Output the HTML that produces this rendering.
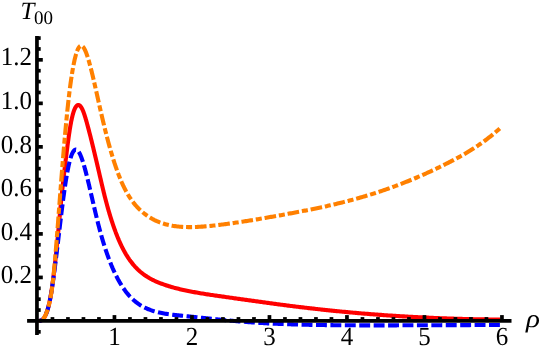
<!DOCTYPE html>
<html><head><meta charset="utf-8"><title>T00 plot</title>
<style>html,body{margin:0;padding:0;background:#fff;overflow:hidden}svg{display:block;will-change:transform;text-rendering:geometricPrecision}</style>
</head><body>
<svg width="540" height="351" viewBox="0 0 540 351">
<rect width="540" height="351" fill="#fff"/>
<path d="M39.09,320.89 L39.28,320.87 L39.48,320.85 L39.68,320.82 L39.88,320.78 L40.08,320.74 L40.28,320.70 L40.48,320.64 L40.67,320.58 L40.87,320.51 L41.07,320.44 L41.27,320.35 L41.47,320.25 L41.67,320.15 L41.87,320.03 L42.06,319.90 L42.26,319.76 L42.46,319.61 L42.66,319.44 L42.86,319.27 L43.06,319.07 L43.26,318.86 L43.46,318.64 L43.65,318.40 L43.85,318.14 L44.05,317.86 L44.25,317.57 L44.45,317.25 L44.65,316.92 L44.85,316.57 L45.04,316.19 L45.24,315.79 L45.44,315.38 L45.64,314.93 L45.84,314.47 L46.04,313.98 L46.24,313.46 L46.44,312.99 L46.63,312.49 L46.83,311.97 L47.03,311.43 L47.23,310.86 L47.43,310.26 L47.63,309.63 L47.83,308.97 L48.02,308.29 L48.22,307.57 L48.42,306.83 L48.62,306.05 L48.82,305.24 L49.02,304.40 L49.22,303.53 L49.42,302.62 L49.61,301.68 L49.81,300.71 L50.01,299.70 L50.21,298.66 L50.41,297.58 L50.61,296.47 L50.81,295.32 L51.00,294.14 L51.20,292.92 L51.40,291.67 L51.60,290.38 L51.80,289.06 L52.00,287.71 L52.20,286.32 L52.39,284.90 L52.59,283.45 L52.79,281.97 L52.99,280.46 L53.19,278.92 L53.39,277.35 L53.59,275.76 L53.79,274.14 L53.98,272.49 L54.18,270.81 L54.38,269.11 L54.58,267.38 L54.78,265.63 L54.98,263.86 L55.18,262.06 L55.37,260.24 L55.57,258.39 L55.77,256.53 L55.97,254.64 L56.17,252.73 L56.37,250.80 L56.57,248.85 L56.77,246.88 L56.96,244.89 L57.16,242.89 L57.36,240.86 L57.56,238.82 L57.76,236.75 L57.96,234.67 L58.16,232.58 L58.35,230.46 L58.55,228.34 L58.75,226.20 L58.95,224.06 L59.15,221.91 L59.35,219.76 L59.55,217.61 L59.74,215.47 L59.94,213.34 L60.14,211.22 L60.34,209.12 L60.54,207.03 L60.74,204.96 L60.94,202.91 L61.14,200.89 L61.33,198.89 L61.53,196.92 L61.73,194.98 L61.93,193.06 L62.13,191.17 L62.33,189.30 L62.53,187.46 L62.72,185.63 L62.92,183.83 L63.12,182.04 L63.32,180.27 L63.52,178.52 L63.72,176.78 L63.92,175.06 L64.12,173.36 L64.31,171.66 L64.51,169.98 L64.71,168.31 L64.91,166.65 L65.11,165.00 L65.31,163.36 L65.51,161.73 L65.70,160.10 L65.90,158.48 L66.10,156.87 L66.30,155.26 L66.50,153.66 L66.70,152.07 L66.90,150.49 L67.09,148.93 L67.29,147.37 L67.49,145.83 L67.69,144.31 L67.89,142.80 L68.09,141.32 L68.29,139.85 L68.49,138.41 L68.68,136.99 L68.88,135.60 L69.08,134.23 L69.28,132.89 L69.48,131.58 L69.68,130.30 L69.88,129.04 L70.07,127.82 L70.27,126.64 L70.47,125.48 L70.67,124.36 L70.87,123.28 L71.07,122.23 L71.27,121.22 L71.47,120.24 L71.66,119.30 L71.86,118.39 L72.06,117.52 L72.26,116.68 L72.46,115.87 L72.66,115.10 L72.86,114.36 L73.05,113.65 L73.25,112.97 L73.45,112.32 L73.65,111.70 L73.85,111.12 L74.05,110.56 L74.25,110.03 L74.45,109.53 L74.64,109.06 L74.84,108.62 L75.04,108.20 L75.24,107.82 L75.44,107.45 L75.64,107.12 L75.84,106.81 L76.03,106.53 L76.23,106.27 L76.43,106.04 L76.63,105.83 L76.83,105.65 L77.03,105.49 L77.23,105.35 L77.42,105.24 L77.62,105.15 L77.82,105.08 L78.02,105.04 L78.22,105.02 L78.42,105.02 L78.62,105.04 L78.82,105.09 L79.01,105.15 L79.21,105.24 L79.41,105.35 L79.61,105.48 L79.81,105.63 L80.01,105.80 L80.21,105.99 L80.40,106.20 L80.60,106.43 L80.80,106.69 L81.00,106.96 L81.20,107.25 L81.40,107.57 L81.60,107.90 L81.80,108.25 L81.99,108.63 L82.19,109.02 L82.39,109.43 L82.59,109.86 L82.79,110.31 L82.99,110.78 L83.19,111.27 L83.38,111.78 L83.58,112.30 L83.78,112.84 L83.98,113.40 L84.18,113.98 L84.38,114.57 L84.58,115.17 L84.77,115.79 L84.97,116.41 L85.17,117.06 L85.37,117.71 L85.57,118.37 L85.77,119.04 L85.97,119.72 L86.17,120.41 L86.36,121.11 L86.56,121.81 L86.76,122.52 L86.96,123.24 L87.16,123.96 L87.36,124.68 L87.56,125.41 L87.75,126.15 L87.95,126.88 L88.15,127.63 L88.35,128.37 L88.55,129.12 L88.75,129.88 L88.95,130.64 L89.15,131.40 L89.34,132.17 L89.54,132.93 L89.74,133.71 L89.94,134.48 L90.14,135.26 L90.34,136.05 L90.54,136.83 L90.73,137.62 L90.93,138.41 L91.13,139.21 L91.33,140.00 L91.53,140.80 L91.73,141.60 L91.93,142.41 L92.13,143.22 L92.32,144.03 L92.52,144.84 L92.72,145.65 L92.92,146.47 L93.12,147.29 L93.32,148.11 L93.52,148.93 L93.71,149.76 L93.91,150.58 L94.11,151.41 L94.31,152.24 L94.51,153.07 L94.71,153.90 L94.91,154.74 L95.10,155.57 L95.30,156.41 L95.50,157.25 L95.70,158.09 L95.90,158.93 L96.10,159.77 L96.30,160.61 L96.50,161.46 L96.69,162.30 L96.89,163.15 L97.09,164.00 L97.29,164.84 L97.49,165.69 L97.69,166.54 L97.89,167.39 L98.08,168.24 L98.28,169.10 L98.48,169.95 L98.68,170.80 L98.88,171.65 L99.08,172.51 L99.28,173.36 L99.48,174.21 L99.67,175.07 L99.87,175.92 L100.07,176.78 L100.27,177.63 L100.47,178.49 L100.67,179.34 L100.87,180.19 L101.06,181.05 L101.26,181.90 L101.46,182.75 L101.66,183.60 L101.86,184.45 L102.06,185.29 L102.26,186.13 L102.45,186.97 L102.65,187.81 L102.85,188.64 L103.05,189.47 L103.25,190.29 L103.45,191.11 L103.65,191.93 L103.85,192.74 L104.04,193.55 L104.24,194.35 L104.44,195.14 L104.64,195.93 L104.84,196.72 L105.04,197.50 L105.24,198.27 L105.43,199.04 L105.63,199.80 L105.83,200.56 L106.03,201.32 L106.23,202.07 L106.43,202.81 L106.63,203.55 L106.83,204.28 L107.02,205.01 L107.22,205.73 L107.42,206.45 L107.62,207.17 L107.82,207.88 L108.02,208.58 L108.22,209.28 L108.41,209.97 L108.61,210.66 L108.81,211.35 L109.01,212.03 L109.21,212.70 L109.41,213.37 L109.61,214.04 L109.81,214.70 L110.00,215.36 L110.20,216.01 L110.40,216.66 L110.60,217.30 L110.80,217.94 L111.00,218.57 L111.20,219.20 L111.39,219.82 L111.59,220.44 L111.79,221.06 L111.99,221.67 L112.19,222.27 L112.39,222.87 L112.59,223.47 L112.78,224.06 L112.98,224.65 L113.18,225.23 L113.38,225.81 L113.58,226.39 L113.78,226.96 L113.98,227.52 L114.18,228.09 L114.37,228.64 L114.57,229.20 L114.77,229.75 L114.97,230.29 L115.17,230.83 L115.37,231.37 L115.57,231.90 L115.76,232.43 L115.96,232.95 L116.16,233.47 L116.36,233.98 L116.56,234.50 L116.76,235.00 L116.96,235.50 L117.16,236.00 L117.35,236.50 L117.55,236.99 L117.75,237.47 L117.95,237.96 L118.15,238.44 L118.35,238.91 L118.55,239.38 L118.74,239.85 L118.94,240.31 L119.14,240.77 L119.34,241.22 L119.54,241.67 L119.74,242.12 L119.94,242.56 L120.13,243.00 L120.33,243.44 L120.53,243.87 L120.73,244.30 L120.93,244.72 L121.13,245.14 L121.33,245.56 L121.53,245.97 L121.72,246.38 L121.92,246.78 L122.12,247.18 L122.32,247.58 L122.52,247.98 L122.72,248.37 L122.92,248.75 L123.11,249.13 L123.31,249.51 L123.51,249.89 L123.71,250.26 L123.91,250.63 L124.11,251.00 L124.31,251.36 L124.51,251.72 L124.70,252.07 L124.90,252.42 L125.10,252.77 L125.30,253.12 L125.50,253.46 L125.70,253.80 L125.90,254.13 L126.09,254.47 L126.29,254.79 L126.49,255.12 L126.69,255.44 L126.89,255.76 L127.09,256.08 L127.29,256.40 L127.48,256.71 L127.68,257.02 L127.88,257.32 L128.08,257.62 L128.28,257.92 L128.48,258.22 L128.68,258.51 L128.88,258.81 L129.07,259.10 L129.27,259.38 L129.47,259.66 L129.67,259.95 L129.87,260.22 L130.07,260.50 L130.27,260.77 L130.46,261.04 L130.66,261.31 L130.86,261.58 L131.06,261.84 L131.26,262.10 L131.46,262.36 L131.66,262.61 L131.86,262.87 L132.05,263.12 L132.25,263.37 L132.45,263.61 L132.65,263.86 L132.85,264.10 L133.05,264.34 L133.25,264.57 L133.44,264.81 L133.64,265.04 L133.84,265.27 L134.04,265.50 L134.24,265.73 L134.44,265.95 L134.64,266.17 L134.84,266.39 L135.03,266.61 L135.23,266.83 L135.43,267.04 L135.63,267.25 L135.83,267.46 L136.03,267.67 L136.23,267.88 L136.42,268.08 L136.62,268.29 L136.82,268.49 L137.02,268.68 L137.22,268.88 L137.42,269.08 L137.62,269.27 L137.81,269.46 L138.01,269.65 L138.21,269.84 L138.41,270.03 L138.61,270.21 L138.81,270.39 L139.01,270.57 L139.21,270.75 L139.40,270.93 L139.60,271.11 L139.80,271.28 L140.00,271.46 L141.21,272.47 L142.41,273.44 L143.62,274.35 L144.82,275.21 L146.03,276.03 L147.23,276.81 L148.44,277.55 L149.64,278.25 L150.85,278.92 L152.05,279.56 L153.26,280.16 L154.46,280.74 L155.67,281.30 L156.87,281.83 L158.08,282.34 L159.29,282.83 L160.49,283.30 L161.70,283.75 L162.90,284.19 L164.11,284.62 L165.31,285.03 L166.52,285.44 L167.72,285.82 L168.93,286.20 L170.13,286.57 L171.34,286.92 L172.54,287.26 L173.75,287.60 L174.96,287.92 L176.16,288.24 L177.37,288.55 L178.57,288.85 L179.78,289.14 L180.98,289.42 L182.19,289.70 L183.39,289.97 L184.60,290.23 L185.80,290.49 L187.01,290.74 L188.21,290.99 L189.42,291.23 L190.62,291.47 L191.83,291.70 L193.04,291.92 L194.24,292.14 L195.45,292.36 L196.65,292.58 L197.86,292.79 L199.06,292.99 L200.27,293.20 L201.47,293.40 L202.68,293.59 L203.88,293.79 L205.09,293.98 L206.29,294.17 L207.50,294.36 L208.71,294.54 L209.91,294.73 L211.12,294.91 L212.32,295.09 L213.53,295.27 L214.73,295.44 L215.94,295.62 L217.14,295.79 L218.35,295.97 L219.55,296.14 L220.76,296.31 L221.96,296.48 L223.17,296.65 L224.37,296.83 L225.58,297.00 L226.79,297.16 L227.99,297.33 L229.20,297.50 L230.40,297.67 L231.61,297.84 L232.81,298.01 L234.02,298.18 L235.22,298.35 L236.43,298.52 L237.63,298.69 L238.84,298.86 L240.04,299.03 L241.25,299.20 L242.45,299.37 L243.66,299.54 L244.87,299.71 L246.07,299.88 L247.28,300.05 L248.48,300.22 L249.69,300.39 L250.89,300.56 L252.10,300.73 L253.30,300.90 L254.51,301.07 L255.71,301.23 L256.92,301.40 L258.12,301.57 L259.33,301.74 L260.54,301.90 L261.74,302.07 L262.95,302.24 L264.15,302.40 L265.36,302.57 L266.56,302.73 L267.77,302.90 L268.97,303.06 L270.18,303.22 L271.38,303.39 L272.59,303.55 L273.79,303.71 L275.00,303.87 L276.20,304.03 L277.41,304.19 L278.62,304.35 L279.82,304.51 L281.03,304.67 L282.23,304.83 L283.44,304.98 L284.64,305.14 L285.85,305.29 L287.05,305.45 L288.26,305.60 L289.46,305.75 L290.67,305.91 L291.87,306.06 L293.08,306.21 L294.28,306.36 L295.49,306.51 L296.70,306.66 L297.90,306.80 L299.11,306.95 L300.31,307.10 L301.52,307.24 L302.72,307.39 L303.93,307.53 L305.13,307.67 L306.34,307.82 L307.54,307.96 L308.75,308.10 L309.95,308.24 L311.16,308.38 L312.37,308.51 L313.57,308.65 L314.78,308.79 L315.98,308.92 L317.19,309.06 L318.39,309.19 L319.60,309.32 L320.80,309.46 L322.01,309.59 L323.21,309.72 L324.42,309.85 L325.62,309.98 L326.83,310.10 L328.03,310.23 L329.24,310.36 L330.45,310.48 L331.65,310.61 L332.86,310.73 L334.06,310.85 L335.27,310.97 L336.47,311.09 L337.68,311.21 L338.88,311.33 L340.09,311.45 L341.29,311.57 L342.50,311.68 L343.70,311.80 L344.91,311.91 L346.12,312.02 L347.32,312.14 L348.53,312.25 L349.73,312.36 L350.94,312.47 L352.14,312.58 L353.35,312.69 L354.55,312.79 L355.76,312.90 L356.96,313.00 L358.17,313.11 L359.37,313.21 L360.58,313.32 L361.78,313.42 L362.99,313.52 L364.20,313.62 L365.40,313.72 L366.61,313.81 L367.81,313.91 L369.02,314.01 L370.22,314.10 L371.43,314.20 L372.63,314.29 L373.84,314.39 L375.04,314.48 L376.25,314.57 L377.45,314.66 L378.66,314.75 L379.86,314.84 L381.07,314.92 L382.28,315.01 L383.48,315.10 L384.69,315.18 L385.89,315.27 L387.10,315.35 L388.30,315.43 L389.51,315.51 L390.71,315.59 L391.92,315.67 L393.12,315.75 L394.33,315.83 L395.53,315.91 L396.74,315.98 L397.95,316.06 L399.15,316.13 L400.36,316.21 L401.56,316.28 L402.77,316.35 L403.97,316.42 L405.18,316.49 L406.38,316.56 L407.59,316.63 L408.79,316.70 L410.00,316.77 L411.20,316.83 L412.41,316.90 L413.61,316.96 L414.82,317.03 L416.03,317.09 L417.23,317.15 L418.44,317.21 L419.64,317.27 L420.85,317.33 L422.05,317.39 L423.26,317.45 L424.46,317.51 L425.67,317.56 L426.87,317.62 L428.08,317.67 L429.28,317.73 L430.49,317.78 L431.69,317.83 L432.90,317.89 L434.11,317.94 L435.31,317.99 L436.52,318.04 L437.72,318.09 L438.93,318.13 L440.13,318.18 L441.34,318.23 L442.54,318.27 L443.75,318.32 L444.95,318.36 L446.16,318.40 L447.36,318.45 L448.57,318.49 L449.78,318.53 L450.98,318.57 L452.19,318.61 L453.39,318.65 L454.60,318.68 L455.80,318.72 L457.01,318.76 L458.21,318.79 L459.42,318.83 L460.62,318.86 L461.83,318.89 L463.03,318.93 L464.24,318.96 L465.44,318.99 L466.65,319.02 L467.86,319.05 L469.06,319.08 L470.27,319.11 L471.47,319.14 L472.68,319.16 L473.88,319.19 L475.09,319.21 L476.29,319.24 L477.50,319.26 L478.70,319.29 L479.91,319.31 L481.11,319.33 L482.32,319.35 L483.53,319.37 L484.73,319.39 L485.94,319.41 L487.14,319.43 L488.35,319.45 L489.55,319.46 L490.76,319.48 L491.96,319.50 L493.17,319.51 L494.37,319.53 L495.58,319.54 L496.78,319.55 L497.99,319.57 L499.19,319.58 L500.40,319.59" fill="none" stroke="#ff0000" stroke-width="4.1" stroke-linejoin="round"/>
<path d="M39.09,320.89 L39.28,320.87 L39.48,320.85 L39.68,320.82 L39.88,320.79 L40.08,320.75 L40.28,320.70 L40.48,320.65 L40.67,320.59 L40.87,320.52 L41.07,320.45 L41.27,320.36 L41.47,320.27 L41.67,320.16 L41.87,320.05 L42.06,319.92 L42.26,319.78 L42.46,319.63 L42.66,319.47 L42.86,319.30 L43.06,319.10 L43.26,318.90 L43.46,318.68 L43.65,318.44 L43.85,318.19 L44.05,317.92 L44.25,317.63 L44.45,317.32 L44.65,316.99 L44.85,316.64 L45.04,316.28 L45.24,315.89 L45.44,315.48 L45.64,315.04 L45.84,314.58 L46.04,314.10 L46.24,313.60 L46.44,313.10 L46.63,312.58 L46.83,312.04 L47.03,311.48 L47.23,310.88 L47.43,310.26 L47.63,309.62 L47.83,308.95 L48.02,308.25 L48.22,307.52 L48.42,306.76 L48.62,305.97 L48.82,305.16 L49.02,304.32 L49.22,303.44 L49.42,302.54 L49.61,301.61 L49.81,300.65 L50.01,299.66 L50.21,298.64 L50.41,297.60 L50.61,296.52 L50.81,295.41 L51.00,294.27 L51.20,293.11 L51.40,291.91 L51.60,290.68 L51.80,289.43 L52.00,288.15 L52.20,286.85 L52.39,285.52 L52.59,284.17 L52.79,282.80 L52.99,281.41 L53.19,280.00 L53.39,278.57 L53.59,277.12 L53.79,275.66 L53.98,274.18 L54.18,272.68 L54.38,271.17 L54.58,269.64 L54.78,268.10 L54.98,266.55 L55.18,264.99 L55.37,263.42 L55.57,261.84 L55.77,260.24 L55.97,258.64 L56.17,257.03 L56.37,255.41 L56.57,253.79 L56.77,252.16 L56.96,250.52 L57.16,248.87 L57.36,247.22 L57.56,245.57 L57.76,243.91 L57.96,242.25 L58.16,240.58 L58.35,238.92 L58.55,237.24 L58.75,235.57 L58.95,233.90 L59.15,232.22 L59.35,230.54 L59.55,228.86 L59.74,227.19 L59.94,225.52 L60.14,223.85 L60.34,222.18 L60.54,220.52 L60.74,218.87 L60.94,217.23 L61.14,215.59 L61.33,213.96 L61.53,212.34 L61.73,210.74 L61.93,209.14 L62.13,207.55 L62.33,205.98 L62.53,204.42 L62.72,202.88 L62.92,201.35 L63.12,199.83 L63.32,198.33 L63.52,196.85 L63.72,195.38 L63.92,193.93 L64.12,192.50 L64.31,191.09 L64.51,189.69 L64.71,188.32 L64.91,186.96 L65.11,185.63 L65.31,184.31 L65.51,183.02 L65.70,181.74 L65.90,180.49 L66.10,179.26 L66.30,178.06 L66.50,176.87 L66.70,175.71 L66.90,174.57 L67.09,173.46 L67.29,172.37 L67.49,171.30 L67.69,170.26 L67.89,169.25 L68.09,168.25 L68.29,167.29 L68.49,166.35 L68.68,165.43 L68.88,164.54 L69.08,163.68 L69.28,162.84 L69.48,162.03 L69.68,161.24 L69.88,160.49 L70.07,159.75 L70.27,159.05 L70.47,158.37 L70.67,157.72 L70.87,157.10 L71.07,156.50 L71.27,155.93 L71.47,155.38 L71.66,154.86 L71.86,154.36 L72.06,153.89 L72.26,153.45 L72.46,153.03 L72.66,152.64 L72.86,152.27 L73.05,151.92 L73.25,151.60 L73.45,151.30 L73.65,151.03 L73.85,150.78 L74.05,150.56 L74.25,150.36 L74.45,150.18 L74.64,150.03 L74.84,149.90 L75.04,149.79 L75.24,149.71 L75.44,149.65 L75.64,149.61 L75.84,149.60 L76.03,149.60 L76.23,149.63 L76.43,149.68 L76.63,149.76 L76.83,149.85 L77.03,149.97 L77.23,150.11 L77.42,150.27 L77.62,150.45 L77.82,150.65 L78.02,150.88 L78.22,151.12 L78.42,151.39 L78.62,151.67 L78.82,151.98 L79.01,152.30 L79.21,152.64 L79.41,153.00 L79.61,153.38 L79.81,153.78 L80.01,154.19 L80.21,154.62 L80.40,155.06 L80.60,155.52 L80.80,156.00 L81.00,156.49 L81.20,157.00 L81.40,157.52 L81.60,158.05 L81.80,158.60 L81.99,159.16 L82.19,159.73 L82.39,160.32 L82.59,160.92 L82.79,161.52 L82.99,162.15 L83.19,162.78 L83.38,163.42 L83.58,164.08 L83.78,164.74 L83.98,165.41 L84.18,166.10 L84.38,166.79 L84.58,167.49 L84.77,168.20 L84.97,168.92 L85.17,169.65 L85.37,170.39 L85.57,171.13 L85.77,171.88 L85.97,172.64 L86.17,173.40 L86.36,174.18 L86.56,174.95 L86.76,175.74 L86.96,176.53 L87.16,177.33 L87.36,178.13 L87.56,178.94 L87.75,179.75 L87.95,180.57 L88.15,181.39 L88.35,182.22 L88.55,183.05 L88.75,183.88 L88.95,184.72 L89.15,185.56 L89.34,186.40 L89.54,187.25 L89.74,188.10 L89.94,188.95 L90.14,189.80 L90.34,190.66 L90.54,191.51 L90.73,192.37 L90.93,193.23 L91.13,194.09 L91.33,194.95 L91.53,195.81 L91.73,196.68 L91.93,197.54 L92.13,198.40 L92.32,199.26 L92.52,200.12 L92.72,200.99 L92.92,201.85 L93.12,202.71 L93.32,203.56 L93.52,204.42 L93.71,205.28 L93.91,206.13 L94.11,206.98 L94.31,207.83 L94.51,208.68 L94.71,209.53 L94.91,210.37 L95.10,211.21 L95.30,212.05 L95.50,212.89 L95.70,213.72 L95.90,214.55 L96.10,215.38 L96.30,216.20 L96.50,217.02 L96.69,217.84 L96.89,218.65 L97.09,219.46 L97.29,220.26 L97.49,221.06 L97.69,221.86 L97.89,222.65 L98.08,223.44 L98.28,224.22 L98.48,225.00 L98.68,225.77 L98.88,226.54 L99.08,227.31 L99.28,228.07 L99.48,228.82 L99.67,229.57 L99.87,230.31 L100.07,231.05 L100.27,231.78 L100.47,232.51 L100.67,233.23 L100.87,233.95 L101.06,234.66 L101.26,235.36 L101.46,236.07 L101.66,236.76 L101.86,237.45 L102.06,238.14 L102.26,238.82 L102.45,239.49 L102.65,240.16 L102.85,240.83 L103.05,241.49 L103.25,242.15 L103.45,242.80 L103.65,243.45 L103.85,244.09 L104.04,244.72 L104.24,245.36 L104.44,245.98 L104.64,246.61 L104.84,247.23 L105.04,247.84 L105.24,248.45 L105.43,249.05 L105.63,249.65 L105.83,250.25 L106.03,250.84 L106.23,251.43 L106.43,252.01 L106.63,252.59 L106.83,253.16 L107.02,253.73 L107.22,254.30 L107.42,254.86 L107.62,255.42 L107.82,255.97 L108.02,256.52 L108.22,257.06 L108.41,257.60 L108.61,258.14 L108.81,258.67 L109.01,259.20 L109.21,259.72 L109.41,260.24 L109.61,260.76 L109.81,261.27 L110.00,261.78 L110.20,262.29 L110.40,262.79 L110.60,263.28 L110.80,263.78 L111.00,264.27 L111.20,264.75 L111.39,265.24 L111.59,265.71 L111.79,266.19 L111.99,266.66 L112.19,267.13 L112.39,267.59 L112.59,268.05 L112.78,268.51 L112.98,268.96 L113.18,269.41 L113.38,269.85 L113.58,270.30 L113.78,270.74 L113.98,271.17 L114.18,271.60 L114.37,272.03 L114.57,272.46 L114.77,272.88 L114.97,273.30 L115.17,273.71 L115.37,274.12 L115.57,274.53 L115.76,274.94 L115.96,275.34 L116.16,275.74 L116.36,276.13 L116.56,276.53 L116.76,276.92 L116.96,277.30 L117.16,277.68 L117.35,278.06 L117.55,278.44 L117.75,278.81 L117.95,279.19 L118.15,279.55 L118.35,279.92 L118.55,280.28 L118.74,280.64 L118.94,280.99 L119.14,281.34 L119.34,281.69 L119.54,282.04 L119.74,282.38 L119.94,282.73 L120.13,283.06 L120.33,283.40 L120.53,283.73 L120.73,284.06 L120.93,284.39 L121.13,284.71 L121.33,285.03 L121.53,285.35 L121.72,285.66 L121.92,285.98 L122.12,286.29 L122.32,286.59 L122.52,286.90 L122.72,287.20 L122.92,287.50 L123.11,287.80 L123.31,288.09 L123.51,288.38 L123.71,288.67 L123.91,288.96 L124.11,289.24 L124.31,289.52 L124.51,289.80 L124.70,290.08 L124.90,290.35 L125.10,290.62 L125.30,290.89 L125.50,291.15 L125.70,291.42 L125.90,291.68 L126.09,291.94 L126.29,292.19 L126.49,292.45 L126.69,292.70 L126.89,292.95 L127.09,293.19 L127.29,293.44 L127.48,293.68 L127.68,293.92 L127.88,294.16 L128.08,294.39 L128.28,294.62 L128.48,294.86 L128.68,295.08 L128.88,295.31 L129.07,295.53 L129.27,295.75 L129.47,295.97 L129.67,296.19 L129.87,296.40 L130.07,296.62 L130.27,296.83 L130.46,297.04 L130.66,297.24 L130.86,297.45 L131.06,297.65 L131.26,297.85 L131.46,298.05 L131.66,298.24 L131.86,298.44 L132.05,298.63 L132.25,298.82 L132.45,299.01 L132.65,299.20 L132.85,299.38 L133.05,299.56 L133.25,299.75 L133.44,299.92 L133.64,300.10 L133.84,300.28 L134.04,300.45 L134.24,300.62 L134.44,300.79 L134.64,300.96 L134.84,301.13 L135.03,301.29 L135.23,301.46 L135.43,301.62 L135.63,301.78 L135.83,301.94 L136.03,302.10 L136.23,302.25 L136.42,302.40 L136.62,302.56 L136.82,302.71 L137.02,302.86 L137.22,303.00 L137.42,303.15 L137.62,303.29 L137.81,303.44 L138.01,303.58 L138.21,303.72 L138.41,303.86 L138.61,303.99 L138.81,304.13 L139.01,304.26 L139.21,304.40 L139.40,304.53 L139.60,304.66 L139.80,304.79 L140.00,304.91 L141.20,305.66 L142.41,306.36 L143.61,307.01 L144.81,307.62 L146.02,308.20 L147.22,308.74 L148.43,309.24 L149.63,309.71 L150.83,310.16 L152.04,310.57 L153.24,310.96 L154.44,311.32 L155.65,311.66 L156.85,311.97 L158.06,312.27 L159.26,312.55 L160.46,312.81 L161.67,313.05 L162.87,313.28 L164.07,313.50 L165.28,313.70 L166.48,313.89 L167.68,314.07 L168.89,314.24 L170.09,314.41 L171.30,314.56 L172.50,314.71 L173.70,314.85 L174.91,314.99 L176.11,315.12 L177.31,315.25 L178.52,315.38 L179.72,315.50 L180.93,315.62 L182.13,315.74 L183.33,315.86 L184.54,315.98 L185.74,316.11 L186.94,316.23 L188.15,316.35 L189.35,316.47 L190.55,316.60 L191.76,316.72 L192.96,316.85 L194.17,316.97 L195.37,317.10 L196.57,317.22 L197.78,317.35 L198.98,317.48 L200.18,317.60 L201.39,317.73 L202.59,317.86 L203.79,317.98 L205.00,318.11 L206.20,318.24 L207.41,318.36 L208.61,318.49 L209.81,318.61 L211.02,318.73 L212.22,318.86 L213.42,318.98 L214.63,319.10 L215.83,319.22 L217.04,319.35 L218.24,319.47 L219.44,319.58 L220.65,319.70 L221.85,319.82 L223.05,319.94 L224.26,320.05 L225.46,320.17 L226.66,320.28 L227.87,320.39 L229.07,320.50 L230.28,320.61 L231.48,320.72 L232.68,320.83 L233.89,320.93 L235.09,321.04 L236.29,321.14 L237.50,321.25 L238.70,321.35 L239.91,321.45 L241.11,321.55 L242.31,321.64 L243.52,321.74 L244.72,321.83 L245.92,321.93 L247.13,322.02 L248.33,322.11 L249.53,322.20 L250.74,322.28 L251.94,322.37 L253.15,322.45 L254.35,322.54 L255.55,322.62 L256.76,322.70 L257.96,322.78 L259.16,322.85 L260.37,322.93 L261.57,323.00 L262.78,323.07 L263.98,323.14 L265.18,323.21 L266.39,323.28 L267.59,323.35 L268.79,323.41 L270.00,323.47 L271.20,323.53 L272.40,323.59 L273.61,323.65 L274.81,323.71 L276.02,323.76 L277.22,323.82 L278.42,323.87 L279.63,323.92 L280.83,323.97 L282.03,324.02 L283.24,324.07 L284.44,324.11 L285.65,324.16 L286.85,324.20 L288.05,324.24 L289.26,324.28 L290.46,324.32 L291.66,324.36 L292.87,324.40 L294.07,324.44 L295.27,324.47 L296.48,324.51 L297.68,324.54 L298.89,324.57 L300.09,324.61 L301.29,324.64 L302.50,324.67 L303.70,324.69 L304.90,324.72 L306.11,324.75 L307.31,324.78 L308.52,324.80 L309.72,324.83 L310.92,324.85 L312.13,324.87 L313.33,324.90 L314.53,324.92 L315.74,324.94 L316.94,324.96 L318.14,324.98 L319.35,325.00 L320.55,325.02 L321.76,325.03 L322.96,325.05 L324.16,325.07 L325.37,325.08 L326.57,325.10 L327.77,325.11 L328.98,325.13 L330.18,325.14 L331.38,325.15 L332.59,325.17 L333.79,325.18 L335.00,325.19 L336.20,325.20 L337.40,325.21 L338.61,325.22 L339.81,325.23 L341.01,325.24 L342.22,325.25 L343.42,325.26 L344.63,325.27 L345.83,325.27 L347.03,325.28 L348.24,325.29 L349.44,325.29 L350.64,325.30 L351.85,325.30 L353.05,325.31 L354.25,325.32 L355.46,325.32 L356.66,325.32 L357.87,325.33 L359.07,325.33 L360.27,325.33 L361.48,325.34 L362.68,325.34 L363.88,325.34 L365.09,325.34 L366.29,325.35 L367.50,325.35 L368.70,325.35 L369.90,325.35 L371.11,325.35 L372.31,325.35 L373.51,325.35 L374.72,325.35 L375.92,325.35 L377.12,325.35 L378.33,325.35 L379.53,325.35 L380.74,325.35 L381.94,325.35 L383.14,325.35 L384.35,325.35 L385.55,325.35 L386.75,325.34 L387.96,325.34 L389.16,325.34 L390.37,325.34 L391.57,325.34 L392.77,325.33 L393.98,325.33 L395.18,325.33 L396.38,325.33 L397.59,325.32 L398.79,325.32 L399.99,325.32 L401.20,325.31 L402.40,325.31 L403.61,325.31 L404.81,325.30 L406.01,325.30 L407.22,325.30 L408.42,325.29 L409.62,325.29 L410.83,325.29 L412.03,325.28 L413.24,325.28 L414.44,325.27 L415.64,325.27 L416.85,325.27 L418.05,325.26 L419.25,325.26 L420.46,325.25 L421.66,325.25 L422.86,325.24 L424.07,325.24 L425.27,325.24 L426.48,325.23 L427.68,325.23 L428.88,325.22 L430.09,325.22 L431.29,325.21 L432.49,325.21 L433.70,325.20 L434.90,325.20 L436.11,325.20 L437.31,325.19 L438.51,325.19 L439.72,325.18 L440.92,325.18 L442.12,325.17 L443.33,325.17 L444.53,325.16 L445.73,325.16 L446.94,325.16 L448.14,325.15 L449.35,325.15 L450.55,325.14 L451.75,325.14 L452.96,325.13 L454.16,325.13 L455.36,325.13 L456.57,325.12 L457.77,325.12 L458.97,325.11 L460.18,325.11 L461.38,325.10 L462.59,325.10 L463.79,325.10 L464.99,325.09 L466.20,325.09 L467.40,325.08 L468.60,325.08 L469.81,325.08 L471.01,325.07 L472.22,325.07 L473.42,325.07 L474.62,325.06 L475.83,325.06 L477.03,325.06 L478.23,325.05 L479.44,325.05 L480.64,325.05 L481.84,325.04 L483.05,325.04 L484.25,325.04 L485.46,325.03 L486.66,325.03 L487.86,325.03 L489.07,325.03 L490.27,325.02 L491.47,325.02 L492.68,325.02 L493.88,325.02 L495.09,325.01 L496.29,325.01 L497.49,325.01 L498.70,325.01 L499.90,325.01" fill="none" stroke="#0000ff" stroke-width="4.1" stroke-dasharray="10.915 3.505" stroke-dashoffset="4.76" stroke-linejoin="round"/>
<path d="M39.09,320.89 L39.28,320.87 L39.48,320.84 L39.68,320.81 L39.88,320.78 L40.08,320.74 L40.28,320.69 L40.48,320.64 L40.67,320.57 L40.87,320.50 L41.07,320.42 L41.27,320.34 L41.47,320.24 L41.67,320.13 L41.87,320.01 L42.06,319.88 L42.26,319.73 L42.46,319.58 L42.66,319.41 L42.86,319.22 L43.06,319.02 L43.26,318.81 L43.46,318.58 L43.65,318.33 L43.85,318.06 L44.05,317.78 L44.25,317.48 L44.45,317.16 L44.65,316.81 L44.85,316.45 L45.04,316.07 L45.24,315.66 L45.44,315.23 L45.64,314.78 L45.84,314.30 L46.04,313.80 L46.24,313.27 L46.44,312.77 L46.63,312.26 L46.83,311.73 L47.03,311.17 L47.23,310.60 L47.43,310.00 L47.63,309.39 L47.83,308.75 L48.02,308.09 L48.22,307.41 L48.42,306.70 L48.62,305.97 L48.82,305.22 L49.02,304.44 L49.22,303.64 L49.42,302.82 L49.61,301.97 L49.81,301.09 L50.01,300.18 L50.21,299.23 L50.41,298.24 L50.61,297.20 L50.81,296.13 L51.00,295.00 L51.20,293.82 L51.40,292.59 L51.60,291.30 L51.80,289.95 L52.00,288.54 L52.20,287.07 L52.39,285.53 L52.59,283.93 L52.79,282.26 L52.99,280.52 L53.19,278.72 L53.39,276.86 L53.59,274.94 L53.79,272.96 L53.98,270.94 L54.18,268.86 L54.38,266.74 L54.58,264.57 L54.78,262.36 L54.98,260.12 L55.18,257.84 L55.37,255.52 L55.57,253.18 L55.77,250.80 L55.97,248.40 L56.17,245.97 L56.37,243.52 L56.57,241.04 L56.77,238.55 L56.96,236.04 L57.16,233.52 L57.36,230.98 L57.56,228.43 L57.76,225.86 L57.96,223.29 L58.16,220.71 L58.35,218.12 L58.55,215.53 L58.75,212.94 L58.95,210.34 L59.15,207.74 L59.35,205.14 L59.55,202.54 L59.74,199.94 L59.94,197.35 L60.14,194.76 L60.34,192.18 L60.54,189.61 L60.74,187.04 L60.94,184.48 L61.14,181.93 L61.33,179.39 L61.53,176.86 L61.73,174.34 L61.93,171.84 L62.13,169.35 L62.33,166.87 L62.53,164.41 L62.72,161.96 L62.92,159.53 L63.12,157.12 L63.32,154.73 L63.52,152.35 L63.72,149.99 L63.92,147.65 L64.12,145.33 L64.31,143.04 L64.51,140.76 L64.71,138.50 L64.91,136.27 L65.11,134.06 L65.31,131.87 L65.51,129.70 L65.70,127.56 L65.90,125.44 L66.10,123.35 L66.30,121.28 L66.50,119.24 L66.70,117.22 L66.90,115.23 L67.09,113.26 L67.29,111.32 L67.49,109.41 L67.69,107.52 L67.89,105.67 L68.09,103.83 L68.29,102.03 L68.49,100.26 L68.68,98.51 L68.88,96.79 L69.08,95.10 L69.28,93.44 L69.48,91.81 L69.68,90.21 L69.88,88.64 L70.07,87.10 L70.27,85.58 L70.47,84.10 L70.67,82.65 L70.87,81.22 L71.07,79.83 L71.27,78.46 L71.47,77.13 L71.66,75.82 L71.86,74.54 L72.06,73.30 L72.26,72.08 L72.46,70.89 L72.66,69.73 L72.86,68.59 L73.05,67.49 L73.25,66.41 L73.45,65.37 L73.65,64.35 L73.85,63.36 L74.05,62.40 L74.25,61.46 L74.45,60.56 L74.64,59.68 L74.84,58.83 L75.04,58.01 L75.24,57.22 L75.44,56.45 L75.64,55.71 L75.84,55.00 L76.03,54.31 L76.23,53.66 L76.43,53.03 L76.63,52.42 L76.83,51.85 L77.03,51.30 L77.23,50.78 L77.42,50.28 L77.62,49.81 L77.82,49.37 L78.02,48.95 L78.22,48.56 L78.42,48.20 L78.62,47.86 L78.82,47.54 L79.01,47.26 L79.21,47.00 L79.41,46.76 L79.61,46.55 L79.81,46.37 L80.01,46.21 L80.21,46.07 L80.40,45.97 L80.60,45.88 L80.80,45.82 L81.00,45.79 L81.20,45.78 L81.40,45.79 L81.60,45.83 L81.80,45.90 L81.99,45.99 L82.19,46.10 L82.39,46.23 L82.59,46.40 L82.79,46.58 L82.99,46.79 L83.19,47.02 L83.38,47.27 L83.58,47.54 L83.78,47.83 L83.98,48.15 L84.18,48.48 L84.38,48.83 L84.58,49.21 L84.77,49.60 L84.97,50.01 L85.17,50.43 L85.37,50.88 L85.57,51.34 L85.77,51.81 L85.97,52.31 L86.17,52.81 L86.36,53.34 L86.56,53.88 L86.76,54.43 L86.96,55.00 L87.16,55.57 L87.36,56.17 L87.56,56.77 L87.75,57.39 L87.95,58.02 L88.15,58.67 L88.35,59.32 L88.55,59.98 L88.75,60.66 L88.95,61.35 L89.15,62.04 L89.34,62.75 L89.54,63.46 L89.74,64.19 L89.94,64.92 L90.14,65.66 L90.34,66.41 L90.54,67.17 L90.73,67.94 L90.93,68.71 L91.13,69.49 L91.33,70.28 L91.53,71.07 L91.73,71.87 L91.93,72.68 L92.13,73.49 L92.32,74.31 L92.52,75.14 L92.72,75.96 L92.92,76.80 L93.12,77.64 L93.32,78.48 L93.52,79.32 L93.71,80.18 L93.91,81.03 L94.11,81.89 L94.31,82.75 L94.51,83.61 L94.71,84.48 L94.91,85.35 L95.10,86.22 L95.30,87.10 L95.50,87.98 L95.70,88.85 L95.90,89.73 L96.10,90.62 L96.30,91.50 L96.50,92.39 L96.69,93.27 L96.89,94.16 L97.09,95.04 L97.29,95.93 L97.49,96.82 L97.69,97.71 L97.89,98.60 L98.08,99.49 L98.28,100.37 L98.48,101.26 L98.68,102.15 L98.88,103.03 L99.08,103.92 L99.28,104.80 L99.48,105.69 L99.67,106.57 L99.87,107.45 L100.07,108.33 L100.27,109.20 L100.47,110.08 L100.67,110.95 L100.87,111.82 L101.06,112.69 L101.26,113.56 L101.46,114.42 L101.66,115.28 L101.86,116.14 L102.06,117.00 L102.26,117.85 L102.45,118.70 L102.65,119.54 L102.85,120.39 L103.05,121.23 L103.25,122.06 L103.45,122.90 L103.65,123.73 L103.85,124.55 L104.04,125.37 L104.24,126.19 L104.44,127.01 L104.64,127.82 L104.84,128.62 L105.04,129.43 L105.24,130.22 L105.43,131.02 L105.63,131.81 L105.83,132.60 L106.03,133.38 L106.23,134.16 L106.43,134.94 L106.63,135.71 L106.83,136.48 L107.02,137.24 L107.22,138.00 L107.42,138.76 L107.62,139.51 L107.82,140.26 L108.02,141.00 L108.22,141.74 L108.41,142.48 L108.61,143.21 L108.81,143.94 L109.01,144.66 L109.21,145.38 L109.41,146.10 L109.61,146.81 L109.81,147.52 L110.00,148.22 L110.20,148.92 L110.40,149.61 L110.60,150.31 L110.80,150.99 L111.00,151.68 L111.20,152.35 L111.39,153.03 L111.59,153.70 L111.79,154.37 L111.99,155.03 L112.19,155.69 L112.39,156.34 L112.59,156.99 L112.78,157.63 L112.98,158.28 L113.18,158.91 L113.38,159.55 L113.58,160.17 L113.78,160.80 L113.98,161.42 L114.18,162.03 L114.37,162.65 L114.57,163.25 L114.77,163.86 L114.97,164.46 L115.17,165.05 L115.37,165.64 L115.57,166.23 L115.76,166.81 L115.96,167.39 L116.16,167.96 L116.36,168.53 L116.56,169.10 L116.76,169.66 L116.96,170.22 L117.16,170.77 L117.35,171.32 L117.55,171.86 L117.75,172.40 L117.95,172.94 L118.15,173.47 L118.35,174.00 L118.55,174.52 L118.74,175.04 L118.94,175.55 L119.14,176.06 L119.34,176.57 L119.54,177.07 L119.74,177.57 L119.94,178.06 L120.13,178.55 L120.33,179.03 L120.53,179.51 L120.73,179.99 L120.93,180.46 L121.13,180.93 L121.33,181.39 L121.53,181.85 L121.72,182.31 L121.92,182.76 L122.12,183.21 L122.32,183.65 L122.52,184.09 L122.72,184.52 L122.92,184.95 L123.11,185.38 L123.31,185.80 L123.51,186.22 L123.71,186.63 L123.91,187.04 L124.11,187.44 L124.31,187.84 L124.51,188.24 L124.70,188.63 L124.90,189.02 L125.10,189.41 L125.30,189.79 L125.50,190.17 L125.70,190.54 L125.90,190.91 L126.09,191.28 L126.29,191.64 L126.49,192.00 L126.69,192.36 L126.89,192.71 L127.09,193.06 L127.29,193.41 L127.48,193.75 L127.68,194.09 L127.88,194.43 L128.08,194.76 L128.28,195.09 L128.48,195.41 L128.68,195.74 L128.88,196.06 L129.07,196.37 L129.27,196.69 L129.47,197.00 L129.67,197.31 L129.87,197.61 L130.07,197.91 L130.27,198.21 L130.46,198.51 L130.66,198.80 L130.86,199.09 L131.06,199.38 L131.26,199.66 L131.46,199.95 L131.66,200.23 L131.86,200.50 L132.05,200.78 L132.25,201.05 L132.45,201.32 L132.65,201.58 L132.85,201.85 L133.05,202.11 L133.25,202.37 L133.44,202.62 L133.64,202.88 L133.84,203.13 L134.04,203.38 L134.24,203.63 L134.44,203.87 L134.64,204.11 L134.84,204.35 L135.03,204.59 L135.23,204.83 L135.43,205.06 L135.63,205.29 L135.83,205.52 L136.03,205.75 L136.23,205.97 L136.42,206.19 L136.62,206.41 L136.82,206.63 L137.02,206.85 L137.22,207.06 L137.42,207.28 L137.62,207.49 L137.81,207.70 L138.01,207.90 L138.21,208.11 L138.41,208.31 L138.61,208.51 L138.81,208.71 L139.01,208.91 L139.21,209.11 L139.40,209.30 L139.60,209.49 L139.80,209.68 L140.00,209.87 L141.20,210.99 L142.41,212.04 L143.61,213.04 L144.81,214.00 L146.02,214.90 L147.22,215.76 L148.43,216.57 L149.63,217.34 L150.83,218.07 L152.04,218.77 L153.24,219.42 L154.44,220.04 L155.65,220.62 L156.85,221.17 L158.06,221.68 L159.26,222.17 L160.46,222.62 L161.67,223.05 L162.87,223.45 L164.07,223.82 L165.28,224.17 L166.48,224.49 L167.68,224.79 L168.89,225.07 L170.09,225.33 L171.30,225.56 L172.50,225.78 L173.70,225.97 L174.91,226.15 L176.11,226.31 L177.31,226.45 L178.52,226.58 L179.72,226.69 L180.93,226.79 L182.13,226.87 L183.33,226.94 L184.54,227.00 L185.74,227.04 L186.94,227.07 L188.15,227.09 L189.35,227.10 L190.55,227.10 L191.76,227.08 L192.96,227.06 L194.17,227.03 L195.37,226.99 L196.57,226.94 L197.78,226.89 L198.98,226.82 L200.18,226.75 L201.39,226.67 L202.59,226.59 L203.79,226.50 L205.00,226.40 L206.20,226.30 L207.41,226.19 L208.61,226.08 L209.81,225.96 L211.02,225.84 L212.22,225.71 L213.42,225.58 L214.63,225.45 L215.83,225.31 L217.04,225.17 L218.24,225.03 L219.44,224.88 L220.65,224.73 L221.85,224.58 L223.05,224.42 L224.26,224.27 L225.46,224.11 L226.66,223.95 L227.87,223.79 L229.07,223.62 L230.28,223.46 L231.48,223.29 L232.68,223.12 L233.89,222.94 L235.09,222.77 L236.29,222.59 L237.50,222.42 L238.70,222.24 L239.91,222.06 L241.11,221.87 L242.31,221.69 L243.52,221.50 L244.72,221.32 L245.92,221.13 L247.13,220.94 L248.33,220.75 L249.53,220.55 L250.74,220.36 L251.94,220.16 L253.15,219.97 L254.35,219.77 L255.55,219.57 L256.76,219.37 L257.96,219.17 L259.16,218.97 L260.37,218.76 L261.57,218.56 L262.78,218.35 L263.98,218.15 L265.18,217.94 L266.39,217.73 L267.59,217.52 L268.79,217.31 L270.00,217.10 L271.20,216.88 L272.40,216.67 L273.61,216.46 L274.81,216.24 L276.02,216.02 L277.22,215.81 L278.42,215.59 L279.63,215.37 L280.83,215.15 L282.03,214.93 L283.24,214.71 L284.44,214.49 L285.65,214.27 L286.85,214.05 L288.05,213.82 L289.26,213.60 L290.46,213.38 L291.66,213.15 L292.87,212.92 L294.07,212.70 L295.27,212.47 L296.48,212.24 L297.68,212.02 L298.89,211.79 L300.09,211.56 L301.29,211.33 L302.50,211.09 L303.70,210.86 L304.90,210.63 L306.11,210.39 L307.31,210.15 L308.52,209.92 L309.72,209.68 L310.92,209.43 L312.13,209.19 L313.33,208.95 L314.53,208.70 L315.74,208.45 L316.94,208.20 L318.14,207.95 L319.35,207.69 L320.55,207.44 L321.76,207.18 L322.96,206.92 L324.16,206.66 L325.37,206.39 L326.57,206.13 L327.77,205.86 L328.98,205.58 L330.18,205.31 L331.38,205.03 L332.59,204.76 L333.79,204.47 L335.00,204.19 L336.20,203.90 L337.40,203.61 L338.61,203.32 L339.81,203.03 L341.01,202.73 L342.22,202.43 L343.42,202.13 L344.63,201.82 L345.83,201.51 L347.03,201.20 L348.24,200.89 L349.44,200.57 L350.64,200.25 L351.85,199.93 L353.05,199.61 L354.25,199.28 L355.46,198.94 L356.66,198.61 L357.87,198.27 L359.07,197.93 L360.27,197.59 L361.48,197.24 L362.68,196.89 L363.88,196.54 L365.09,196.18 L366.29,195.82 L367.50,195.46 L368.70,195.09 L369.90,194.72 L371.11,194.35 L372.31,193.97 L373.51,193.59 L374.72,193.21 L375.92,192.82 L377.12,192.43 L378.33,192.03 L379.53,191.64 L380.74,191.23 L381.94,190.83 L383.14,190.42 L384.35,190.01 L385.55,189.59 L386.75,189.17 L387.96,188.75 L389.16,188.33 L390.37,187.90 L391.57,187.46 L392.77,187.02 L393.98,186.58 L395.18,186.14 L396.38,185.69 L397.59,185.24 L398.79,184.78 L399.99,184.32 L401.20,183.86 L402.40,183.39 L403.61,182.92 L404.81,182.45 L406.01,181.97 L407.22,181.48 L408.42,181.00 L409.62,180.51 L410.83,180.01 L412.03,179.52 L413.24,179.02 L414.44,178.51 L415.64,178.00 L416.85,177.49 L418.05,176.97 L419.25,176.45 L420.46,175.93 L421.66,175.40 L422.86,174.87 L424.07,174.33 L425.27,173.79 L426.48,173.25 L427.68,172.70 L428.88,172.15 L430.09,171.59 L431.29,171.03 L432.49,170.47 L433.70,169.90 L434.90,169.33 L436.11,168.76 L437.31,168.18 L438.51,167.60 L439.72,167.01 L440.92,166.42 L442.12,165.83 L443.33,165.23 L444.53,164.63 L445.73,164.03 L446.94,163.42 L448.14,162.81 L449.35,162.19 L450.55,161.57 L451.75,160.94 L452.96,160.32 L454.16,159.68 L455.36,159.04 L456.57,158.40 L457.77,157.75 L458.97,157.09 L460.18,156.43 L461.38,155.75 L462.59,155.08 L463.79,154.39 L464.99,153.69 L466.20,152.99 L467.40,152.27 L468.60,151.55 L469.81,150.82 L471.01,150.07 L472.22,149.32 L473.42,148.55 L474.62,147.78 L475.83,146.99 L477.03,146.19 L478.23,145.38 L479.44,144.55 L480.64,143.72 L481.84,142.87 L483.05,142.00 L484.25,141.13 L485.46,140.24 L486.66,139.33 L487.86,138.41 L489.07,137.48 L490.27,136.53 L491.47,135.57 L492.68,134.59 L493.88,133.59 L495.09,132.58 L496.29,131.56 L497.49,130.51 L498.70,129.45 L499.90,128.38" fill="none" stroke="#ff8000" stroke-width="4.1" stroke-dasharray="11.658 2.852 6.054 2.852" stroke-dashoffset="19.98" stroke-linejoin="round"/>
<g stroke="#000" stroke-width="3.7" fill="none"><line x1="27.1" y1="320.95" x2="511.5" y2="320.95"/><line x1="36.95" y1="36.1" x2="36.95" y2="335.0"/><line x1="52.45" y1="320.95" x2="52.45" y2="317.1"/><line x1="67.95" y1="320.95" x2="67.95" y2="317.1"/><line x1="83.45" y1="320.95" x2="83.45" y2="317.1"/><line x1="98.95" y1="320.95" x2="98.95" y2="317.1"/><line x1="114.45" y1="320.95" x2="114.45" y2="315.1"/><line x1="129.95" y1="320.95" x2="129.95" y2="317.1"/><line x1="145.45" y1="320.95" x2="145.45" y2="317.1"/><line x1="160.95" y1="320.95" x2="160.95" y2="317.1"/><line x1="176.45" y1="320.95" x2="176.45" y2="317.1"/><line x1="191.95" y1="320.95" x2="191.95" y2="315.1"/><line x1="207.45" y1="320.95" x2="207.45" y2="317.1"/><line x1="222.95" y1="320.95" x2="222.95" y2="317.1"/><line x1="238.45" y1="320.95" x2="238.45" y2="317.1"/><line x1="253.95" y1="320.95" x2="253.95" y2="317.1"/><line x1="269.45" y1="320.95" x2="269.45" y2="315.1"/><line x1="284.95" y1="320.95" x2="284.95" y2="317.1"/><line x1="300.45" y1="320.95" x2="300.45" y2="317.1"/><line x1="315.95" y1="320.95" x2="315.95" y2="317.1"/><line x1="331.45" y1="320.95" x2="331.45" y2="317.1"/><line x1="346.95" y1="320.95" x2="346.95" y2="315.1"/><line x1="362.45" y1="320.95" x2="362.45" y2="317.1"/><line x1="377.95" y1="320.95" x2="377.95" y2="317.1"/><line x1="393.45" y1="320.95" x2="393.45" y2="317.1"/><line x1="408.95" y1="320.95" x2="408.95" y2="317.1"/><line x1="424.45" y1="320.95" x2="424.45" y2="315.1"/><line x1="439.95" y1="320.95" x2="439.95" y2="317.1"/><line x1="455.45" y1="320.95" x2="455.45" y2="317.1"/><line x1="470.95" y1="320.95" x2="470.95" y2="317.1"/><line x1="486.45" y1="320.95" x2="486.45" y2="317.1"/><line x1="501.95" y1="320.95" x2="501.95" y2="315.1"/><line x1="36.95" y1="331.83" x2="40.7" y2="331.83"/><line x1="36.95" y1="310.07" x2="40.7" y2="310.07"/><line x1="36.95" y1="299.19" x2="40.7" y2="299.19"/><line x1="36.95" y1="288.31" x2="40.7" y2="288.31"/><line x1="36.95" y1="277.43" x2="42.8" y2="277.43"/><line x1="36.95" y1="266.55" x2="40.7" y2="266.55"/><line x1="36.95" y1="255.67" x2="40.7" y2="255.67"/><line x1="36.95" y1="244.79" x2="40.7" y2="244.79"/><line x1="36.95" y1="233.91" x2="42.8" y2="233.91"/><line x1="36.95" y1="223.03" x2="40.7" y2="223.03"/><line x1="36.95" y1="212.15" x2="40.7" y2="212.15"/><line x1="36.95" y1="201.27" x2="40.7" y2="201.27"/><line x1="36.95" y1="190.39" x2="42.8" y2="190.39"/><line x1="36.95" y1="179.51" x2="40.7" y2="179.51"/><line x1="36.95" y1="168.63" x2="40.7" y2="168.63"/><line x1="36.95" y1="157.75" x2="40.7" y2="157.75"/><line x1="36.95" y1="146.87" x2="42.8" y2="146.87"/><line x1="36.95" y1="135.99" x2="40.7" y2="135.99"/><line x1="36.95" y1="125.11" x2="40.7" y2="125.11"/><line x1="36.95" y1="114.23" x2="40.7" y2="114.23"/><line x1="36.95" y1="103.35" x2="42.8" y2="103.35"/><line x1="36.95" y1="92.47" x2="40.7" y2="92.47"/><line x1="36.95" y1="81.59" x2="40.7" y2="81.59"/><line x1="36.95" y1="70.71" x2="40.7" y2="70.71"/><line x1="36.95" y1="59.83" x2="42.8" y2="59.83"/><line x1="36.95" y1="48.95" x2="40.7" y2="48.95"/><line x1="36.95" y1="38.07" x2="40.7" y2="38.07"/></g>
<g font-family="'Liberation Serif', serif" font-size="25" fill="#000"><text transform="translate(114.45,345.0) scale(1,1.045)" text-anchor="middle">1</text><text transform="translate(191.95,345.0) scale(1,1.045)" text-anchor="middle">2</text><text transform="translate(269.45,345.0) scale(1,1.045)" text-anchor="middle">3</text><text transform="translate(346.95,345.0) scale(1,1.045)" text-anchor="middle">4</text><text transform="translate(424.45,345.0) scale(1,1.045)" text-anchor="middle">5</text><text transform="translate(501.95,345.0) scale(1,1.045)" text-anchor="middle">6</text><text transform="translate(32.0,283.08) scale(1,1.045)" text-anchor="end">0.2</text><text transform="translate(32.0,239.56) scale(1,1.045)" text-anchor="end">0.4</text><text transform="translate(32.0,196.04) scale(1,1.045)" text-anchor="end">0.6</text><text transform="translate(32.0,152.52) scale(1,1.045)" text-anchor="end">0.8</text><text transform="translate(32.0,109.00) scale(1,1.045)" text-anchor="end">1.0</text><text transform="translate(32.0,65.48) scale(1,1.045)" text-anchor="end">1.2</text></g>
<text x="20.6" y="19.4" font-family="'Liberation Serif', serif" font-size="25" font-style="italic" fill="#000">T<tspan font-style="normal" font-size="19" dx="-0.4" dy="4.6">00</tspan></text>
<text transform="translate(526.1,326.9) scale(1.16,1.02)" font-family="'Liberation Serif', serif" font-size="25" font-style="italic" fill="#000">ρ</text>
</svg>
</body></html>
